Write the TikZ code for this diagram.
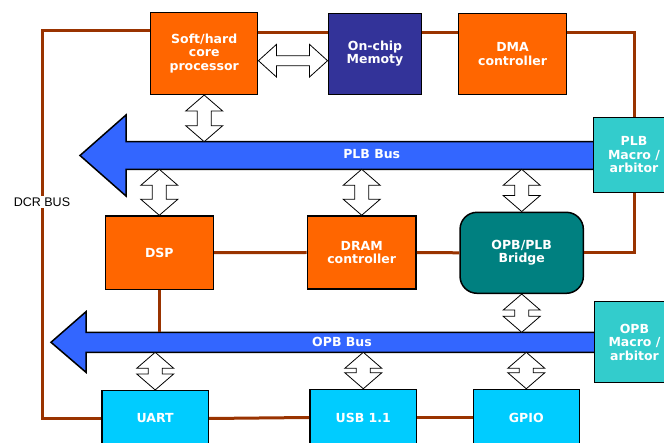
\documentclass[tikz,border=0pt]{standalone}
\usepackage{fontspec}
\setmainfont{DejaVu Sans}
\newfontfamily\labelfont{Liberation Sans}
\usetikzlibrary{calc}
\definecolor{orangebox}{HTML}{FF6600}
\definecolor{navybox}{HTML}{333399}
\definecolor{tealbox}{HTML}{008080}
\definecolor{cyanbox}{HTML}{00CCFF}
\definecolor{turqbox}{HTML}{33CCCC}
\definecolor{busblue}{HTML}{3366FF}
\definecolor{wire}{HTML}{993300}
\tikzset{
  blk/.style={draw=black, line width=1.5pt, inner sep=0pt, align=center, text=white,
    font=\fontsize{12.5}{13.5}\selectfont\bfseries},
  wirel/.style={draw=wire, line width=3pt},
  busshape/.style={draw=black, fill=busblue, line width=1.5pt, line join=miter},
  dblarrow/.style={draw=black, fill=white, line width=0.8pt, line join=miter},
  buslabel/.style={text=white, font=\fontsize{12.5}{13.5}\selectfont\bfseries, inner sep=0pt}
}
\newcommand\vdblarrow[2]{%
  \path[dblarrow] let \p1=(#1), \p2=(#2) in
   (\x1,\y1) -- (\x1+18.5pt,\y1-16pt) -- (\x1+7pt,\y1-16pt) -- (\x1+7pt,\y2+16pt)
   -- (\x1+18.5pt,\y2+16pt) -- (\x1,\y2) -- (\x1-18.5pt,\y2+16pt) -- (\x1-7pt,\y2+16pt)
   -- (\x1-7pt,\y1-16pt) -- (\x1-18.5pt,\y1-16pt) -- cycle;}
\newcommand\hdblarrow[2]{%
  \path[dblarrow] let \p1=(#1), \p2=(#2) in
   (\x1,\y1) -- (\x1+18pt,\y1+16.3pt) -- (\x1+18pt,\y1+5pt) -- (\x2-18pt,\y1+5pt)
   -- (\x2-18pt,\y1+16.3pt) -- (\x2,\y1) -- (\x2-18pt,\y1-16.3pt) -- (\x2-18pt,\y1-5pt)
   -- (\x1+18pt,\y1-5pt) -- (\x1+18pt,\y1-16.3pt) -- cycle;}
\begin{document}
\begin{tikzpicture}[x=1pt,y=-1pt]
\useasboundingbox (0,0) rectangle (664,443);
% bus coordinates
\coordinate (plbT) at (0,141.7);
\coordinate (plbB) at (0,169.3);
\coordinate (opbT) at (0,332.3);
\coordinate (opbB) at (0,352.3);
% buses
\draw[busshape] (600,141.7) -- (126,141.7) -- (126,115) -- (80,155.5) -- (126,196) -- (126,169.3) -- (600,169.3);
\draw[busshape] (600,332.3) -- (86,332.3) -- (86,311.7) -- (51,342.3) -- (86,372.3) -- (86,352.3) -- (600,352.3);
\node[buslabel] (plblabel) at (371.7,154.5) {PLB Bus};
\node[buslabel] (opblabel) at (342,341.8) {OPB Bus};
% blocks
\node[blk, fill=orangebox, minimum width=107pt, minimum height=81.6pt] (proc) at (204.2,53.5) {Soft/hard\\core\\processor};
\node[blk, fill=navybox, minimum width=93.4pt, minimum height=81pt] (mem) at (375,53.8) {On-chip\\Memoty};
\node[blk, fill=orangebox, minimum width=108.4pt, minimum height=81pt] (dma) at (512.5,53.8) {DMA\\controller};
\node[blk, fill=turqbox, minimum width=81.4pt, minimum height=75pt] (plbm) at (634,154.8) {PLB\\Macro /\\arbitor};
\node[blk, fill=orangebox, minimum width=108pt, minimum height=73.3pt] (dsp) at (159.3,252.7) {DSP};
\node[blk, fill=orangebox, minimum width=108.7pt, minimum height=73pt] (dram) at (361.7,252.5) {DRAM\\controller};
\node[blk, fill=tealbox, rounded corners=17pt, minimum width=123.3pt, minimum height=81pt] (bridge) at (521.7,252.8) {OPB/PLB\\Bridge};
\node[blk, fill=turqbox, minimum width=80.4pt, minimum height=80.6pt] (opbm) at (634.5,342) {OPB\\Macro /\\arbitor};
\node[blk, fill=cyanbox, minimum width=106.3pt, minimum height=55.6pt] (uart) at (155.2,418.5) {UART};
\node[blk, fill=cyanbox, minimum width=106.7pt, minimum height=56pt] (usb) at (363.3,417.5) {USB 1.1};
\node[blk, fill=cyanbox, minimum width=106pt, minimum height=56pt] (gpio) at (526.3,417.5) {GPIO};
% wires
\coordinate (dcrtop) at (42,30.7);
\coordinate (dcrbot) at (42,418.5);
\draw[wirel] (proc.west |- dcrtop) -- (dcrtop) -- (dcrbot) -- (uart.west |- dcrbot);
\node[fill=white, inner sep=1.5pt, font=\labelfont\fontsize{12.5}{13.5}\selectfont] (dcr) at (42,201.7) {DCR BUS};
\coordinate (toprow) at (0,32.3);
\draw[wirel] (proc.east |- toprow) -- (mem.west |- toprow);
\draw[wirel] (mem.east |- toprow) -- (dma.west |- toprow);
\draw[wirel] (dma.east |- toprow) -| (plbm.north);
\draw[wirel] (plbm.south) |- (bridge.east);
\draw[wirel] (bridge.west) -- (dram.east);
\draw[wirel] (dram.west) -- (dsp.east);
\draw[wirel] (dsp.south) -- (dsp.south |- opbT);
\draw[wirel] (uart.east) -- (usb.west);
\draw[wirel] (usb.east) -- (gpio.west);
% block double arrows
\coordinate (pmrow) at (0,60.7);
\hdblarrow{proc.east |- pmrow}{mem.west |- pmrow}
\vdblarrow{proc.south}{proc.south |- plbT}
\vdblarrow{dsp.north |- plbB}{dsp.north}
\vdblarrow{dram.north |- plbB}{dram.north}
\vdblarrow{bridge.north |- plbB}{bridge.north}
\vdblarrow{bridge.south}{bridge.south |- opbT}
\vdblarrow{uart.north |- opbB}{uart.north}
\vdblarrow{usb.north |- opbB}{usb.north}
\vdblarrow{gpio.north |- opbB}{gpio.north}
\end{tikzpicture}
\end{document}
